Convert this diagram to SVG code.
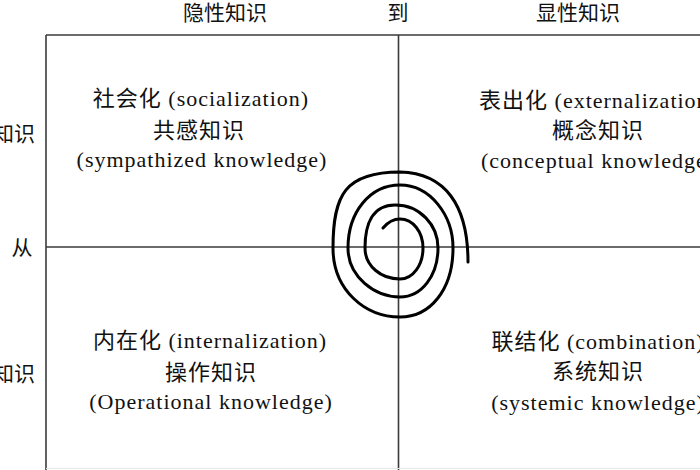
<svg xmlns="http://www.w3.org/2000/svg" width="700" height="470" viewBox="0 0 700 470">
<style>
.t{font-family:"Liberation Serif","Noto Sans CJK SC",serif;font-size:22px;fill:#111;text-anchor:middle;letter-spacing:1px}
.ax{font-family:"Liberation Serif","Noto Sans CJK SC",serif;font-size:21px;fill:#111}
.g{stroke:#3a3a3a;stroke-width:1.6;fill:none}
</style>
<rect width="700" height="470" fill="#fff"/>
<g id="grid">
<line class="g" x1="46" y1="35" x2="700" y2="35"/>
<line class="g" x1="46" y1="35" x2="46" y2="470"/>
<line class="g" x1="398.5" y1="35" x2="398.5" y2="470"/>
<line class="g" x1="46" y1="247" x2="700" y2="247"/>
<line x1="46" y1="468.5" x2="700" y2="468.5" stroke="#e6e6e6" stroke-width="1"/>
</g>
<g id="axis-labels">
<text class="ax" x="225" y="20" text-anchor="middle">隐性知识</text>
<text class="ax" x="398" y="20" text-anchor="middle">到</text>
<text class="ax" x="578" y="20" text-anchor="middle">显性知识</text>
<text class="ax" x="35" y="141" text-anchor="end">隐性知识</text>
<text class="ax" x="22" y="255" text-anchor="middle">从</text>
<text class="ax" x="35" y="381" text-anchor="end">显性知识</text>
</g>
<g id="socialization">
<text class="t" x="201" y="106">社会化 (socialization)</text>
<text class="t" x="199" y="138">共感知识</text>
<text class="t" x="202" y="167">(sympathized knowledge)</text>
</g>
<g id="externalization">
<text class="t" x="598" y="108">表出化 (externalization)</text>
<text class="t" x="598" y="138">概念知识</text>
<text class="t" x="598" y="168">(conceptual knowledge)</text>
</g>
<g id="internalization">
<text class="t" x="210" y="348">内在化 (internalization)</text>
<text class="t" x="211" y="380">操作知识</text>
<text class="t" x="211" y="409">(Operational knowledge)</text>
</g>
<g id="combination">
<text class="t" x="598" y="349">联结化 (combination)</text>
<text class="t" x="598" y="379">系统知识</text>
<text class="t" x="598" y="410">(systemic knowledge)</text>
</g>
<g id="connectors">
<path id="spiral" fill="none" stroke="#000" stroke-width="3" stroke-linecap="round" stroke-linejoin="round"
d="M383,228 C388,222 394,219 400,219 C413,219 423,232 423,248 C423,265 413,279 400,279 C381,279 365,266 365,248 C365,225 372,205 395,205 C420,205 438,225 438,248 C438,275 422,297 400,297 C375,297 348,277 348,248 C348,212 370,185 400,185 C430,185 453,215 453,248 C453,290 430,317 400,317 C365,317 333,290 333,248 C333,195 345,172 400,172 C445,173 468,205 468,262"/>
</g>
</svg>
